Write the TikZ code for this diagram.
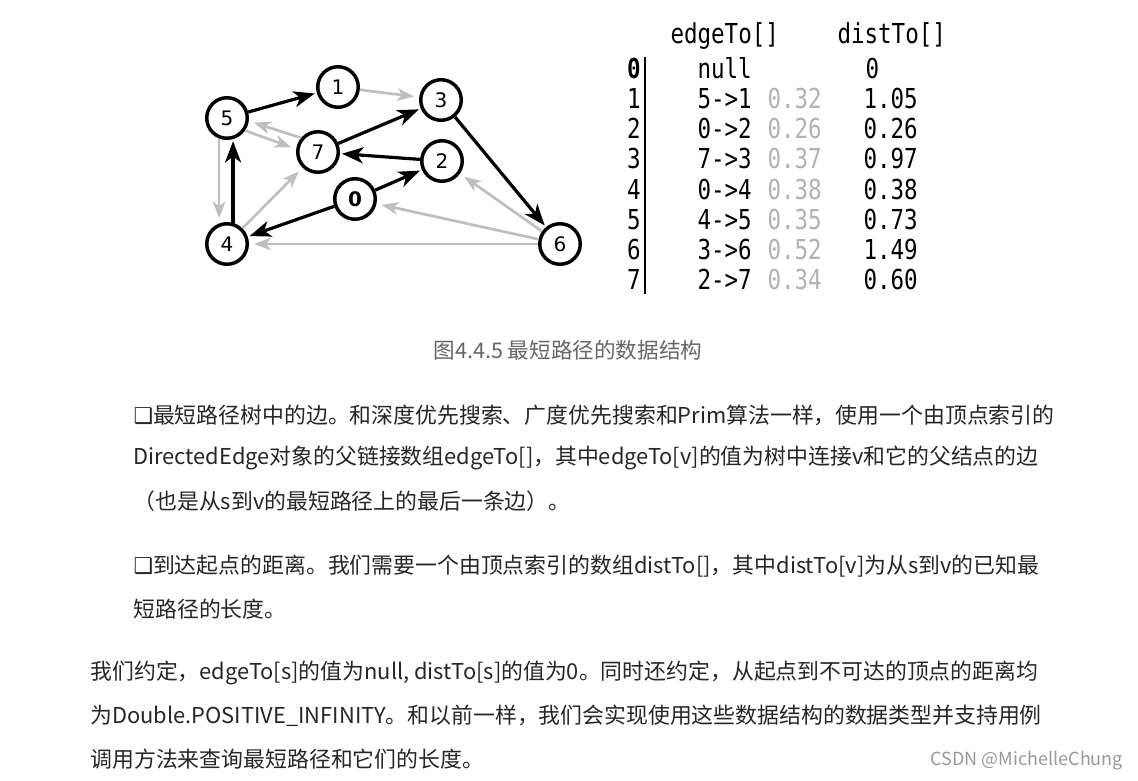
\documentclass[tikz,border=0pt]{standalone}
\usepackage{fontspec}
\setmainfont{Noto Sans CJK SC}
\newfontfamily\monofont[FakeStretch=0.82]{DejaVu Sans Mono}
\newfontfamily\vtxfont{DejaVu Sans}
\newfontfamily\symfont{DejaVu Sans}
\usetikzlibrary{arrows.meta}

\tikzset{every picture/.style={line width=0.75pt}}
\tikzset{
  vtx/.style={circle, draw, line width=2.6pt, minimum size=30.4pt, inner sep=0pt, fill=white,
    font=\vtxfont\fontsize{15}{15}\selectfont},
  tree/.style={line width=2.4pt, -{Stealth[length=16pt,width=12pt,inset=4.5pt]}, shorten >=1.5pt},
  nontree/.style={draw=black!25, line width=2pt, -{Stealth[length=12.5pt,width=9.5pt,inset=3.5pt]}, shorten >=4pt},
  tbl/.style={anchor=base west, inner sep=0pt, font=\monofont\fontsize{20.6}{20.6}\selectfont},
  wt/.style={tbl, text=black!30},
  body/.style={anchor=west, inner sep=0pt, text=black!85, font=\fontsize{16.4}{20}\selectfont},
}

\begin{document}
\begin{tikzpicture}[x=0.75pt,y=0.75pt,yscale=-1,xscale=1]
	\fill [white] (0,0) rectangle (1138,781);
	\useasboundingbox (0,0) rectangle (1138,781);

	%Shape: Circle
	\node [vtx] (v5) at (227,118) {5};
	\node [vtx] (v1) at (338,87) {1};
	\node [vtx] (v3) at (441,100) {3};
	\node [vtx] (v7) at (318,152) {7};
	\node [vtx] (v2) at (442,161) {2};
	\node [vtx, font=\vtxfont\bfseries\fontsize{15}{15}\selectfont] (v0) at (355,199) {0};
	\node [vtx] (v4) at (227,244) {4};
	\node [vtx] (v6) at (560,244) {6};

	%Straight Lines (not in tree)
	\draw [nontree] (v1) -- (v3);
	\draw [nontree] (v7.140) -- (v5.-8);
	\draw [nontree] (v5.-35) -- (v7.172);
	\draw [nontree] (v5.-111) -- (v4.111);
	\draw [nontree] (v4) -- (v7);
	\draw [nontree] (v6) -- (v2);
	\draw [nontree] (v6) -- (v0);
	\draw [nontree] (v6) -- (v4);
	%Straight Lines (tree)
	\draw [tree] (v5) -- (v1);
	\draw [tree] (v7) -- (v3);
	\draw [tree] (v2) -- (v7);
	\draw [tree] (v0) -- (v2);
	\draw [tree] (v0) -- (v4);
	\draw [tree] (v4.74) -- (v5.-74);
	\draw [tree] (v3) -- (v6);

	% Text Node
	\node [tbl] (hEdge) at (670,43.3) {edgeTo[]};
	\node [tbl] (hDist) at (837,43.3) {distTo[]};
	% Straight Lines
	\coordinate (barTop) at (645,57);
	\coordinate (barBot) at (645,294);
	\draw [line width=2.2pt] (barTop) -- (barBot);
	% Text Node
	\node [tbl, anchor=base, font=\monofont\bfseries\fontsize{20.6}{20.6}\selectfont] (i0) at (634,78.3) {0};
	\node [tbl] (e0) at (697,78.3) {null};
	\node [tbl] (d0) at (865,78.3) {0};
	\foreach \i/\e/\w/\d [count=\r] in {1/5->1/0.32/1.05, 2/0->2/0.26/0.26, 3/7->3/0.37/0.97,
	    4/0->4/0.38/0.38, 5/4->5/0.35/0.73, 6/3->6/0.52/1.49, 7/2->7/0.34/0.60}
	{
	  \node [tbl, anchor=base] (i\i) at (634,78.3+30.2*\r) {\i};
	  \node [tbl] (e\i) at (697,78.3+30.2*\r) {\e};
	  \node [wt] (w\i) at (767,78.3+30.2*\r) {\w};
	  \node [tbl] (d\i) at (863,78.3+30.2*\r) {\d};
	}

	% Text Node
	\node [body, text=black!60, font=\fontsize{16.2}{20}\selectfont] (cap) at (433,350) {图4.4.5 最短路径的数据结构};

	% Text Node
	\node [body] (p1a) at (133,415) {{\symfont ❑}最短路径树中的边。和深度优先搜索、广度优先搜索和Prim算法一样，使用一个由顶点索引的};
	\node [body] (p1b) at (133,458) {DirectedEdge对象的父链接数组edgeTo[]，其中edgeTo[v]的值为树中连接v和它的父结点的边};
	\node [body] (p1c) at (133,501) {（也是从s到v的最短路径上的最后一条边）。};
	\node [body] (p2a) at (133,566) {{\symfont ❑}到达起点的距离。我们需要一个由顶点索引的数组distTo[]，其中distTo[v]为从s到v的已知最};
	\node [body] (p2b) at (133,609) {短路径的长度。};
	\node [body] (p3a) at (90,673) {我们约定，edgeTo[s]的值为null, distTo[s]的值为0。同时还约定，从起点到不可达的顶点的距离均};
	\node [body] (p3b) at (90,716) {为Double.POSITIVE\_INFINITY。和以前一样，我们会实现使用这些数据结构的数据类型并支持用例};
	\node [body] (p3c) at (90,759) {调用方法来查询最短路径和它们的长度。};

	% Text Node
	\node [body, text=black!40, font=\fontsize{13.5}{16}\selectfont] (mark) at (930,761) {CSDN @MichelleChung};

\end{tikzpicture}
\end{document}
